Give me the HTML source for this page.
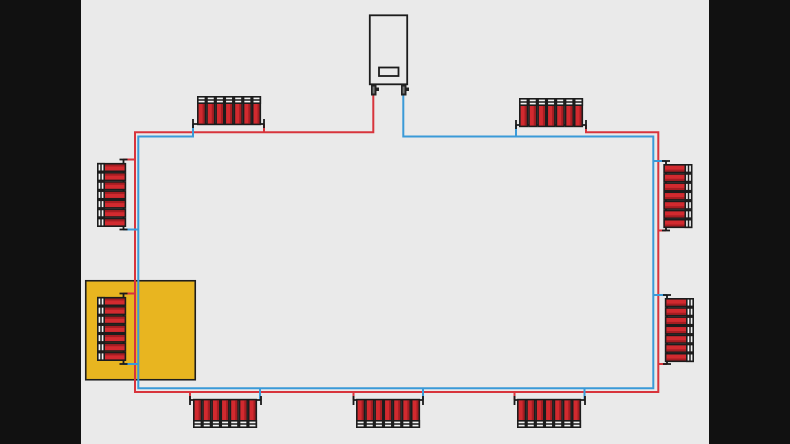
<!DOCTYPE html>
<html>
<head>
<meta charset="utf-8">
<style>
html,body{margin:0;padding:0;background:#111;}
body{width:790px;height:444px;overflow:hidden;}
svg{display:block;}
</style>
</head>
<body>
<svg width="790" height="444" viewBox="0 0 790 444" xmlns="http://www.w3.org/2000/svg">
<defs>
  <g id="s">
    <rect x="0.8" y="0.8" width="7.6" height="27.6" fill="#D22A2F" stroke="#1c1c1c" stroke-width="1.6"/>
    <rect x="5.6" y="7.6" width="2" height="20" fill="#A51D22"/>
    <rect x="0.8" y="0.8" width="7.6" height="6.4" fill="#F2F2F2" stroke="#1c1c1c" stroke-width="1.6"/>
    <line x1="0.8" x2="8.4" y1="4" y2="4" stroke="#1c1c1c" stroke-width="1.5"/>
  </g>
  <g id="r">
    <use href="#s" x="0"/>
    <use href="#s" x="9.15"/>
    <use href="#s" x="18.3"/>
    <use href="#s" x="27.45"/>
    <use href="#s" x="36.6"/>
    <use href="#s" x="45.75"/>
    <use href="#s" x="54.9"/>
  </g>
</defs>

<rect x="0" y="0" width="790" height="444" fill="#111"/>
<rect x="81" y="0" width="628" height="444" fill="#EAEAEA"/>

<rect x="85.75" y="280.75" width="109.5" height="99" fill="#E8B520" stroke="#1e1e1e" stroke-width="1.6"/>

<g fill="none" stroke-width="2" stroke-linejoin="miter">
  <path d="M373.3,94 V132.3 H135 V392 H658.3 V132.3 H586 V125" stroke="#D8343C"/>
  <path d="M264,124 V132.3" stroke="#D8343C"/>
  <path d="M123,159.5 H135" stroke="#D8343C"/>
  <path d="M123,293.5 H135" stroke="#D8343C"/>
  <path d="M658.3,230.5 H666" stroke="#D8343C"/>
  <path d="M658.3,364 H667" stroke="#D8343C"/>
  <path d="M190,392 V400" stroke="#D8343C"/>
  <path d="M353.5,392 V400" stroke="#D8343C"/>
  <path d="M514.5,392 V400" stroke="#D8343C"/>
  <path d="M403.3,94 V136.5 H653.3 V388.3 H138.3 V136.5 H193 V124" stroke="#3A9AD8"/>
  <path d="M516,136.5 V125" stroke="#3A9AD8"/>
  <path d="M123,229.5 H138.3" stroke="#3A9AD8"/>
  <path d="M123,364 H138.3" stroke="#3A9AD8"/>
  <path d="M653.3,161 H666" stroke="#3A9AD8"/>
  <path d="M653.3,295 H667" stroke="#3A9AD8"/>
  <path d="M260,388.3 V400" stroke="#3A9AD8"/>
  <path d="M423,388.3 V400" stroke="#3A9AD8"/>
  <path d="M584.5,388.3 V400" stroke="#3A9AD8"/>
</g>

<rect x="369.8" y="15.3" width="37.4" height="69" fill="#EAEAEA" stroke="#1c1c1c" stroke-width="1.8"/>
<rect x="379" y="67.5" width="19.5" height="8.5" fill="none" stroke="#1c1c1c" stroke-width="1.8"/>
<rect x="371" y="84.5" width="5.5" height="11" fill="#222"/>
<rect x="376" y="87.5" width="3" height="3.5" fill="#222"/>
<rect x="401" y="84.5" width="5.5" height="11" fill="#222"/>
<rect x="406" y="87.5" width="3" height="3.5" fill="#222"/>
<rect x="372.6" y="86.5" width="2" height="7" fill="#777"/>
<rect x="402.6" y="86.5" width="2" height="7" fill="#777"/>

<g stroke="#1a1a1a" stroke-width="1.8" fill="none">
  <path d="M193,124 H264 M193,119 V128 M264,119 V128"/>
  <path d="M516,125 H586 M516,120 V129 M586,120 V129"/>
  <path d="M123.5,159.5 V229.5 M119.5,159.5 H127.5 M119.5,229.5 H127.5"/>
  <path d="M123.5,293.5 V364 M119.5,293.5 H127.5 M119.5,364 H127.5"/>
  <path d="M666,161 V230.5 M662,161 H670 M662,230.5 H670"/>
  <path d="M667,295 V364 M663,295 H671 M663,364 H671"/>
  <path d="M190,400 H261 M190,396 V405 M261,396 V405"/>
  <path d="M353.5,400 H423 M353.5,396 V405 M423,396 V405"/>
  <path d="M514.5,400 H585 M514.5,396 V405 M585,396 V405"/>
</g>

<use href="#r" transform="translate(197,96)"/>
<use href="#r" transform="translate(519,98)"/>
<use href="#r" transform="translate(97,227) rotate(-90)"/>
<use href="#r" transform="translate(97,361) rotate(-90)"/>
<use href="#r" transform="translate(692.5,164) rotate(90)"/>
<use href="#r" transform="translate(694,298) rotate(90)"/>
<use href="#r" transform="translate(193,428) scale(1,-1)"/>
<use href="#r" transform="translate(356,428) scale(1,-1)"/>
<use href="#r" transform="translate(517,428) scale(1,-1)"/>
</svg>
</body>
</html>
